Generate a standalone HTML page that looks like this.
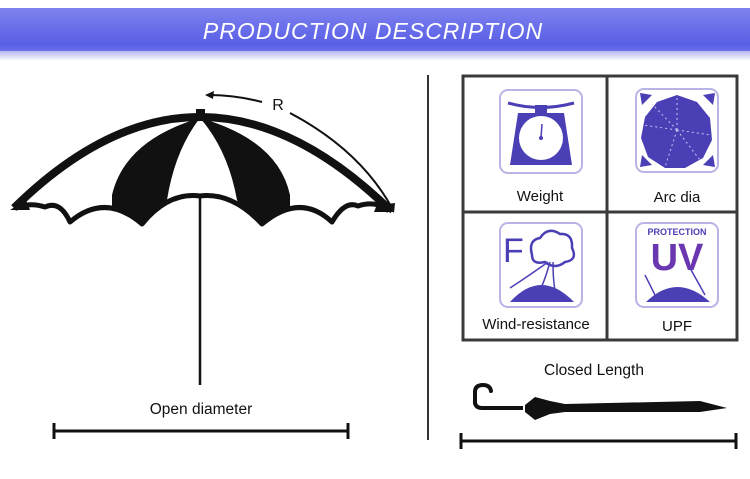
<!DOCTYPE html>
<html><head><style>
body{margin:0;width:750px;height:474px;background:#fff;overflow:hidden;font-family:"Liberation Sans",sans-serif}
</style></head><body>
<svg width="750" height="474" viewBox="0 0 750 474" xmlns="http://www.w3.org/2000/svg">
<defs>
<linearGradient id="bn" x1="0" y1="0" x2="0" y2="1">
<stop offset="0" stop-color="#7d82ef"/><stop offset="0.85" stop-color="#5a5fe6"/><stop offset="1" stop-color="#6b70ea"/>
</linearGradient>
<linearGradient id="sh" x1="0" y1="0" x2="0" y2="1">
<stop offset="0" stop-color="#b4b6f0"/><stop offset="1" stop-color="#fff"/>
</linearGradient>
<clipPath id="can">
<path d="M14,208 Q200,25 390,210 L372,206 Q352,198 332,222 Q300,192 262,224 Q232,192 200,196 Q168,192 142,224 Q105,192 70,222 Q55,200 34,206 Z"/>
</clipPath>
</defs>
<rect x="0" y="8" width="750" height="43" fill="url(#bn)"/>
<rect x="0" y="51" width="750" height="10" fill="url(#sh)"/>
<text x="373" y="39" text-anchor="middle" font-family="Liberation Sans" font-style="italic" font-size="23" fill="#fff" letter-spacing="1">PRODUCTION DESCRIPTION</text>

<!-- umbrella -->
<g clip-path="url(#can)">
<path d="M200,118 Q125,140 112,195 L112,240 L142,240 L167,200 Q175,150 200,118 Z" fill="#111"/>
<path d="M200,118 Q278,140 290,195 L290,240 L262,240 L237,200 Q228,150 200,118 Z" fill="#111"/>
</g>
<path d="M14,208 Q200,25 390,210" stroke="#111" stroke-width="8" fill="none"/>
<path d="M14,208 Q30,202 45,207 Q60,200 70,222 Q105,192 142,224 Q168,192 200,196 Q232,192 262,224 Q300,192 332,222 Q345,200 358,206 Q375,200 392,211" stroke="#111" stroke-width="5" fill="none" stroke-linejoin="round"/>
<path d="M10,210 L26,200 L30,210 Z M394,212 L378,202 L374,212 Z" fill="#111"/>
<rect x="196" y="109" width="9" height="9" fill="#111"/>
<line x1="200" y1="197" x2="200" y2="385" stroke="#111" stroke-width="2.5"/>
<path d="M262,102 Q235,95 210,95" stroke="#111" stroke-width="2" fill="none"/>
<path d="M205,95 L214,91 L213,99 Z" fill="#111"/>
<text x="278" y="110" font-size="16" fill="#111" text-anchor="middle">R</text>
<path d="M290,113 Q360,150 392,208" stroke="#111" stroke-width="2" fill="none"/>
<path d="M394,213 L387,204 L395,203 Z" fill="#111"/>
<text x="201" y="414" font-size="15.5" fill="#111" text-anchor="middle">Open diameter</text>
<line x1="53" y1="431" x2="349" y2="431" stroke="#111" stroke-width="3"/>
<line x1="54" y1="423" x2="54" y2="439" stroke="#111" stroke-width="3"/>
<line x1="348" y1="423" x2="348" y2="439" stroke="#111" stroke-width="3"/>

<line x1="428" y1="75" x2="428" y2="440" stroke="#333" stroke-width="2"/>

<!-- grid -->
<rect x="463" y="76" width="274" height="264" fill="#fff" stroke="#3a3a3a" stroke-width="3"/>
<line x1="607" y1="76" x2="607" y2="340" stroke="#3a3a3a" stroke-width="3"/>
<line x1="463" y1="212" x2="737" y2="212" stroke="#3a3a3a" stroke-width="3"/>

<g fill="none" stroke="#b9b4e6" stroke-width="2">
<rect x="500" y="90" width="82" height="83" rx="8"/>
<rect x="636" y="89" width="82" height="83" rx="8"/>
<rect x="500" y="223" width="82" height="84" rx="8"/>
<rect x="636" y="223" width="82" height="84" rx="8"/>
</g>
<path d="M508,103 Q540,112 574,103" stroke="#4b3fb5" stroke-width="3" fill="none"/>
<rect x="535" y="105" width="12" height="8" fill="#4b3fb5"/>
<path d="M518,113 L564,113 L572,165 L510,165 Z" fill="#4b3fb5"/>
<circle cx="541" cy="138" r="22" fill="#fff"/>
<line x1="541" y1="138" x2="542" y2="124" stroke="#4b3fb5" stroke-width="1.5"/>
<circle cx="541" cy="138" r="2" fill="#4b3fb5"/>
<polygon points="677,95 697,102 710,118 712,140 703,158 685,168 665,168 648,157 641,138 645,117 657,102" fill="#4b3fb5"/>
<g stroke="#c8c4f0" stroke-width="1" stroke-dasharray="2,3"><line x1="677" y1="130" x2="677" y2="96"/><line x1="677" y1="130" x2="711" y2="135"/><line x1="677" y1="130" x2="665" y2="167"/><line x1="677" y1="130" x2="643" y2="125"/><line x1="677" y1="130" x2="700" y2="160"/><line x1="677" y1="130" x2="652" y2="104"/></g>
<g fill="#4b3fb5"><polygon points="640,93 652,95 642,105"/><polygon points="715,93 703,95 713,105"/><polygon points="640,167 652,165 642,155"/><polygon points="715,167 703,165 713,155"/></g>
<text x="503" y="262" font-size="34" fill="#4b3fb5">F</text>
<path d="M532,255 Q528,240 540,238 Q548,226 560,234 Q573,233 572,248 Q578,260 565,262 Q555,270 545,262 Q532,265 532,255 Z" fill="#fff" stroke="#4b3fb5" stroke-width="2.5"/>
<path d="M548,262 Q530,275 510,288 M550,262 Q545,280 540,290 M553,262 Q553,280 555,290" stroke="#4b3fb5" stroke-width="1.5" fill="none"/>
<path d="M510,302 Q541,268 574,302 Z" fill="#4b3fb5"/>
<text x="677" y="235" font-size="9" font-weight="bold" fill="#4b3fb5" text-anchor="middle">PROTECTION</text>
<text x="677" y="270" font-size="38" font-weight="bold" fill="#6a37b0" text-anchor="middle">UV</text>
<path d="M646,302 Q677,272 710,302 Z" fill="#4b3fb5"/>
<g stroke="#4b3fb5" stroke-width="1.5"><line x1="645" y1="275" x2="655" y2="295"/><line x1="690" y1="268" x2="705" y2="295"/></g>

<g font-size="15" fill="#111" text-anchor="middle">
<text x="540" y="201">Weight</text>
<text x="677" y="202">Arc dia</text>
<text x="536" y="329">Wind-resistance</text>
<text x="677" y="331">UPF</text>
</g>

<text x="594" y="375" font-size="15.5" fill="#111" text-anchor="middle">Closed Length</text>
<path d="M475,403 L475,392 Q475,385 483,385 Q490,385 491,391" stroke="#111" stroke-width="4" fill="none" stroke-linecap="round"/>
<path d="M475,403 Q476,408 482,408 L523,408" stroke="#111" stroke-width="4" fill="none"/>
<path d="M525,405 L535,397 L550,401 L565,404 L700,401 L727,408 L700,412 L565,412 L550,414 L535,420 L525,412 Z" fill="#111"/>
<line x1="460" y1="441" x2="737" y2="441" stroke="#111" stroke-width="3"/>
<line x1="461" y1="433" x2="461" y2="449" stroke="#111" stroke-width="3"/>
<line x1="736" y1="433" x2="736" y2="449" stroke="#111" stroke-width="3"/>
</svg>
</body></html>
